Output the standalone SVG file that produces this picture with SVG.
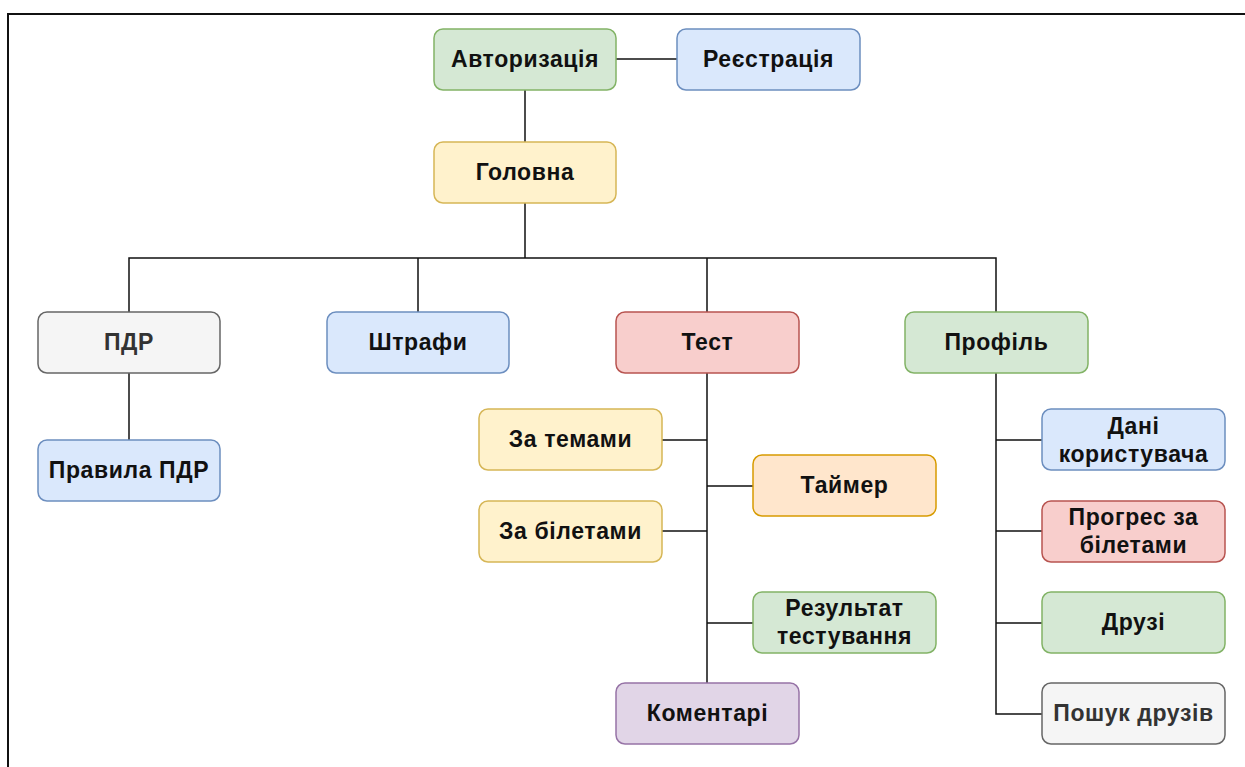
<svg xmlns="http://www.w3.org/2000/svg" width="1245" height="767" viewBox="0 0 1245 767">
  <style>
    .box { stroke-width: 1.5; }
    .green { fill: #d5e8d4; stroke: #82b366; }
    .blue { fill: #dae8fc; stroke: #6c8ebf; }
    .yellow { fill: #fff2cc; stroke: #d6b656; }
    .gray { fill: #f5f5f5; stroke: #666666; }
    .red { fill: #f8cecc; stroke: #b85450; }
    .orange { fill: #ffe6cc; stroke: #d79b00; }
    .purple { fill: #e1d5e7; stroke: #9673a6; }
    text { font-family: "Liberation Sans", Arial, sans-serif; font-weight: bold; font-size: 23px; letter-spacing: 0.6px; fill: #111111; text-anchor: middle; }
    text.dim { fill: #333333; }
    .edge { fill: none; stroke: #111111; stroke-width: 1.5; }
    .frame { fill: none; stroke: #111111; stroke-width: 2; }
  </style>
  <rect x="0" y="0" width="1245" height="767" fill="#ffffff"/>
  <!-- page frame -->
  <path class="frame" d="M8 767 V14 H1245"/>

  <g id="connectors">
    <path class="edge" d="M616 59 H677"/>
    <path class="edge" d="M525 90 V142"/>
    <path class="edge" d="M525 203 V258 M129 312 V258 H996 V312 M418 258 V312 M707 258 V312"/>
    <path class="edge" d="M129 373 V440"/>
    <path class="edge" d="M707 373 V683 M662 440 H707 M662 531 H707 M707 486 H753 M707 623 H753"/>
    <path class="edge" d="M996 373 V714 H1042 M996 440 H1042 M996 531 H1042 M996 623 H1042"/>
  </g>

  <g id="auth"><rect class="box green" x="434" y="29" width="182" height="61" rx="9"/><text x="525" y="67">Авторизація</text></g>
  <g id="register"><rect class="box blue" x="677" y="29" width="183" height="61" rx="9"/><text x="768.5" y="67">Реєстрація</text></g>
  <g id="home"><rect class="box yellow" x="434" y="142" width="182" height="61" rx="9"/><text x="525" y="180">Головна</text></g>

  <g id="pdr"><rect class="box gray" x="38" y="312" width="182" height="61" rx="9"/><text class="dim" x="129" y="350">ПДР</text></g>
  <g id="fines"><rect class="box blue" x="327" y="312" width="182" height="61" rx="9"/><text x="418" y="350">Штрафи</text></g>
  <g id="test"><rect class="box red" x="616" y="312" width="183" height="61" rx="9"/><text x="707.5" y="350">Тест</text></g>
  <g id="profile"><rect class="box green" x="905" y="312" width="183" height="61" rx="9"/><text x="996.5" y="350">Профіль</text></g>

  <g id="rules"><rect class="box blue" x="38" y="440" width="182" height="61" rx="9"/><text x="129" y="478">Правила ПДР</text></g>

  <g id="by-topics"><rect class="box yellow" x="479" y="409" width="183" height="61" rx="9"/><text x="570.5" y="447">За темами</text></g>
  <g id="by-tickets"><rect class="box yellow" x="479" y="501" width="183" height="61" rx="9"/><text x="570.5" y="539">За білетами</text></g>
  <g id="timer"><rect class="box orange" x="753" y="455" width="183" height="61" rx="9"/><text x="844.5" y="493">Таймер</text></g>
  <g id="result"><rect class="box green" x="753" y="592" width="183" height="61" rx="9"/><text x="844.5" y="616">Результат</text><text x="844.5" y="644">тестування</text></g>
  <g id="comments"><rect class="box purple" x="616" y="683" width="183" height="61" rx="9"/><text x="707.5" y="721">Коментарі</text></g>

  <g id="user-data"><rect class="box blue" x="1042" y="409" width="183" height="61" rx="9"/><text x="1133.5" y="434">Дані</text><text x="1133.5" y="462">користувача</text></g>
  <g id="progress"><rect class="box red" x="1042" y="501" width="183" height="61" rx="9"/><text x="1133.5" y="525">Прогрес за</text><text x="1133.5" y="553">білетами</text></g>
  <g id="friends"><rect class="box green" x="1042" y="592" width="183" height="61" rx="9"/><text x="1133.5" y="630">Друзі</text></g>
  <g id="find-friends"><rect class="box gray" x="1042" y="683" width="183" height="61" rx="9"/><text class="dim" x="1133.5" y="721">Пошук друзів</text></g>
</svg>
